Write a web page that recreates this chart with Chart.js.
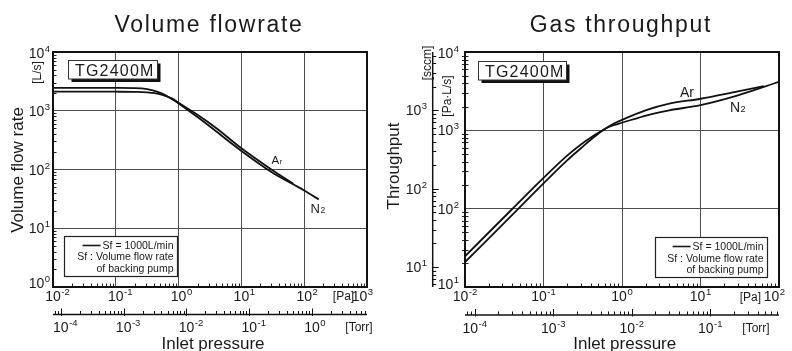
<!DOCTYPE html>
<html><head><meta charset="utf-8">
<script src="https://cdn.jsdelivr.net/npm/chart.js@4/dist/chart.umd.min.js"></script>
<style>
html,body{margin:0;padding:0;background:#fff;}
#wrap{position:relative;width:792px;height:351px;overflow:hidden;background:#fff;}
canvas{position:absolute;top:0;}
#c1{left:0px;}
#c2{left:380px;}
</style></head><body>
<div id="wrap">
<canvas id="c1" width="380" height="351"></canvas>
<canvas id="c2" width="412" height="351"></canvas>
</div>
<script>
// ---------------- data ----------------
// Volume flowrate chart: inlet pressure [Pa] -> volume flow rate [L/s]
const volPressureN2 = [0.01, 0.05, 0.1, 0.2, 0.316, 0.5, 0.79, 1, 2, 4, 10, 30, 67, 100, 170];
const volSpeedN2    = [2450, 2450, 2445, 2430, 2330, 2030, 1575, 1334, 780, 442, 207, 91, 56, 44, 31];
const volPressureAr = [0.01, 0.05, 0.1, 0.2, 0.316, 0.5, 0.79, 1, 2, 4, 10, 30, 67];
const volSpeedAr    = [2110, 2110, 2108, 2100, 2060, 1920, 1610, 1370, 855, 505, 230, 100, 57];

// Gas throughput chart: inlet pressure [Pa] -> throughput [Pa·L/s]
const gasPressureN2   = [0.01, 0.04, 0.1, 0.2, 0.3, 0.41, 0.61, 0.78, 1, 2.08, 4, 10, 30, 100];
const gasThroughputN2 = [24.7, 99, 247, 476, 660, 820, 1049, 1162, 1250, 1557, 1800, 2100, 2800, 4160];
const gasPressureAr   = [0.01, 0.048, 0.1, 0.2, 0.3, 0.41, 0.61, 0.78, 1, 2.08, 4, 10, 30, 64];
const gasThroughputAr = [20.8, 100, 210, 414, 591, 775, 1045, 1211, 1358, 1820, 2186, 2531, 3151, 3667];

// tick label exponents (labels are 10^n)
const volPaExponents    = ['-2', '-1', '0', '1', '2', '3'];
const volTorrExponents  = ['-4', '-3', '-2', '-1', '0'];
const volYExponents     = ['0', '1', '2', '3', '4'];
const gasPaExponents    = ['-2', '-1', '0', '1', '2'];
const gasTorrExponents  = ['-4', '-3', '-2', '-1'];
const gasYExponents     = ['1', '2', '3', '4'];
const gasSccmExponents  = ['1', '2', '3'];

const PA_PER_TORR = 133.322;
const SCCM_PER_PALS = 0.556;
const FONT = '"Liberation Sans", Arial, Helvetica, sans-serif';
const INK = '#1a1a1a';

function isPow10(v){ const l = Math.log10(v); return Math.abs(l - Math.round(l)) < 1e-6; }
function gridColor(c){ return (c.tick && isPow10(c.tick.value)) ? '#4d4d4d' : 'rgba(0,0,0,0)'; }
function toPts(xs, ys){ return xs.map((x, i) => ({x: x, y: ys[i]})); }
function logValues(min, max){
  const out = [];
  for (let e = Math.floor(Math.log10(min)) - 1; e <= Math.ceil(Math.log10(max)); e++)
    for (let m = 1; m <= 9; m++){
      const v = m * Math.pow(10, e);
      if (v >= min * 0.9999 && v <= max * 1.0001) out.push({v: v, major: m === 1});
    }
  return out;
}
function powMetrics(ctx, exp){
  ctx.font = '14px ' + FONT; const a = ctx.measureText('10').width;
  ctx.font = '9.5px ' + FONT; const b = ctx.measureText(exp).width;
  return {a: a, b: b, w: a + b + 0.5};
}
function drawPow(ctx, exp, left, cy){
  ctx.textAlign = 'left'; ctx.textBaseline = 'alphabetic'; ctx.fillStyle = INK;
  ctx.font = '14px ' + FONT; ctx.fillText('10', left, cy + 5);
  const a = ctx.measureText('10').width;
  ctx.font = '9.5px ' + FONT; ctx.fillText(exp, left + a + 0.5, cy - 1);
}
function hLabels(ctx, scale, off, exps, cy, mode){
  exps.forEach((e, i) => {
    const px = scale.getPixelForValue(Math.pow(10, Number(e))) + off;
    const m = powMetrics(ctx, e);
    let left;
    if (i === exps.length - 1 && mode.lastRight) left = px + 6 - m.w;
    else if (mode.kind === 'base') left = px - m.a / 2;
    else left = px - m.w / 2;
    drawPow(ctx, e, left, cy);
  });
}
function vLabels(ctx, scale, exps, right, shifts){
  exps.forEach((e, i) => {
    const py = scale.getPixelForValue(Math.pow(10, Number(e)));
    const m = powMetrics(ctx, e);
    let cy = py;
    if (i === 0) cy += shifts[0];
    if (i === exps.length - 1) cy += shifts[1];
    drawPow(ctx, e, right - m.w, cy);
  });
}
function vText(ctx, s, x, y, font){
  ctx.save(); ctx.translate(x, y); ctx.rotate(-Math.PI / 2);
  ctx.font = font; ctx.textAlign = 'center'; ctx.textBaseline = 'alphabetic'; ctx.fillStyle = INK;
  ctx.fillText(s, 0, 0); ctx.restore();
}
function line(ctx, x1, y1, x2, y2){ ctx.beginPath(); ctx.moveTo(x1, y1); ctx.lineTo(x2, y2); ctx.stroke(); }

function decoPlugin(d){
  return {
    id: 'deco',
    afterDraw(chart){
      const ctx = chart.ctx, ca = chart.chartArea, off = d.offset;
      const sx = chart.scales.x, sy = chart.scales.y, sT = chart.scales.xTorr;
      ctx.save();
      ctx.translate(-off, 0);
      const L = ca.left + off, R = ca.right + off, T = ca.top, B = ca.bottom;
      ctx.lineCap = 'butt';

      // TG2400M label box with shadow
      const tb = d.tgBox;
      ctx.fillStyle = '#111'; ctx.fillRect(tb.x + 3, tb.y + 3, tb.w, tb.h);
      ctx.fillStyle = '#fff'; ctx.fillRect(tb.x, tb.y, tb.w, tb.h);
      ctx.strokeStyle = '#333'; ctx.lineWidth = 1; ctx.strokeRect(tb.x, tb.y, tb.w, tb.h);
      ctx.fillStyle = INK; ctx.font = '16px ' + FONT; ctx.textAlign = 'left'; ctx.textBaseline = 'alphabetic';
      ctx.letterSpacing = '1.2px';
      ctx.fillText(d.tgText, tb.x + 6.5, tb.y + 15.5);
      ctx.letterSpacing = '0px';

      // legend box
      const lg = d.legend;
      ctx.fillStyle = '#fff'; ctx.fillRect(lg.x, lg.y, lg.w, lg.h);
      ctx.strokeStyle = '#222'; ctx.lineWidth = 1.2; ctx.strokeRect(lg.x, lg.y, lg.w, lg.h);
      ctx.fillStyle = INK; ctx.font = '10.5px ' + FONT; ctx.textAlign = 'right';
      const rx = lg.x + lg.w - 4;
      d.legendLines.forEach((s, i) => ctx.fillText(s, rx, lg.y + lg.b[i]));
      const w1 = ctx.measureText(d.legendLines[0]).width;
      ctx.strokeStyle = INK; ctx.lineWidth = 1.6;
      line(ctx, rx - w1 - 20, lg.y + lg.b[0] - 3.5, rx - w1 - 2, lg.y + lg.b[0] - 3.5);

      // inner minor ticks
      ctx.strokeStyle = '#222'; ctx.lineWidth = 1;
      logValues(sx.min, sx.max).forEach(t => {
        if (t.major) return;
        const x = Math.round(sx.getPixelForValue(t.v) + off) + 0.5;
        line(ctx, x, B, x, B - 3.5);
      });
      logValues(sy.min, sy.max).forEach(t => {
        if (t.major) return;
        const y = Math.round(sy.getPixelForValue(t.v)) + 0.5;
        line(ctx, L - d.yTickOut, y, L + 3.5, y);
      });

      // frame
      ctx.strokeStyle = '#111'; ctx.lineWidth = 2;
      ctx.strokeRect(L, T, R - L, B - T);

      // main tick labels
      hLabels(ctx, sx, off, d.paExps, d.xLabelY, {kind: d.xLabelMode, lastRight: true});
      vLabels(ctx, sy, d.yExps, d.yLabelRight, d.yShift);

      // Torr axis
      ctx.strokeStyle = '#111'; ctx.lineWidth = 1.5;
      line(ctx, L, d.torrY, R, d.torrY);
      ctx.lineWidth = 1;
      logValues(sT.min, sT.max).forEach(t => {
        const x = Math.round(sT.getPixelForValue(t.v) + off) + 0.5;
        if (t.major) line(ctx, x, d.torrY - 6, x, d.torrY + 1.5);
        else line(ctx, x, d.torrY - 3.5, x, d.torrY);
      });
      hLabels(ctx, sT, off, d.torrExps, d.torrLabelY, {kind: d.xLabelMode, lastRight: false});

      // sccm axis
      if (d.sccm){
        const sS = chart.scales.ySccm;
        const ax = d.sccm.x;
        ctx.strokeStyle = '#111'; ctx.lineWidth = 1.5;
        line(ctx, ax, T, ax, B);
        ctx.lineWidth = 1;
        logValues(sS.min, sS.max).forEach(t => {
          const y = Math.round(sS.getPixelForValue(t.v)) + 0.5;
          line(ctx, ax, y, ax + (t.major ? 6 : 3.5), y);
        });
        vLabels(ctx, sS, d.sccm.exps, d.sccm.right, [0, 0]);
      }

      // unit labels
      ctx.fillStyle = INK; ctx.font = '12px ' + FONT; ctx.textAlign = 'center'; ctx.textBaseline = 'alphabetic';
      ctx.fillText('[Pa]', d.paUnit.x, d.paUnit.y + 4.5);
      ctx.fillText('[Torr]', d.torrUnit.x, d.torrUnit.y + 4.5);
      d.units.forEach(u => vText(ctx, u.text, u.x, u.y, '12px ' + FONT));

      // titles
      ctx.fillStyle = INK; ctx.textAlign = 'center';
      ctx.font = '23px ' + FONT; ctx.letterSpacing = '1.7px';
      ctx.fillText(d.title.text, d.title.x, d.title.y);
      ctx.letterSpacing = '0px';
      ctx.font = '17px ' + FONT;
      ctx.fillText(d.xTitle.text, d.xTitle.x, d.xTitle.y);
      vText(ctx, d.yTitle.text, d.yTitle.x, d.yTitle.y, '17px ' + FONT);

      // gas labels
      ctx.textAlign = 'left';
      d.gas.forEach(g => {
        ctx.font = g.f1 + 'px ' + FONT; ctx.fillText(g.main, g.x, g.y);
        const w = ctx.measureText(g.main).width;
        if (g.sub){ ctx.font = g.f2 + 'px ' + FONT; ctx.fillText(g.sub, g.x + w + 0.5, g.y); }
      });
      ctx.restore();
    }
  };
}

function lineDataset(label, pts){
  return {label: label, data: pts, borderColor: '#111', borderWidth: 1.8, pointRadius: 0,
          cubicInterpolationMode: 'monotone', fill: false};
}
function baseScales(xMin, xMax, yMin, yMax){
  return {
    x: {type: 'logarithmic', position: 'bottom', min: xMin, max: xMax,
        ticks: {display: false}, grid: {color: gridColor, lineWidth: 1, drawTicks: false},
        border: {display: false}, afterFit(s){ s.height = 0; }},
    xTorr: {type: 'logarithmic', position: 'bottom', min: xMin / PA_PER_TORR, max: xMax / PA_PER_TORR,
        ticks: {display: false}, grid: {display: false, drawTicks: false},
        border: {display: false}, afterFit(s){ s.height = 0; }},
    y: {type: 'logarithmic', position: 'left', min: yMin, max: yMax,
        ticks: {display: false}, grid: {color: gridColor, lineWidth: 1, drawTicks: false},
        border: {display: false}, afterFit(s){ s.width = 0; }}
  };
}
const commonOpts = {
  responsive: false, animation: false, devicePixelRatio: 1, events: [],
  plugins: {legend: {display: false}, tooltip: {enabled: false}, title: {display: false}}
};

// ---------- Volume flowrate ----------
const volScales = baseScales(0.01, 1000, 1, 10000);
new Chart(document.getElementById('c1'), {
  type: 'line',
  data: {datasets: [lineDataset('Ar', toPts(volPressureAr, volSpeedAr)),
                    lineDataset('N2', toPts(volPressureN2, volSpeedN2))]},
  options: Object.assign({}, commonOpts, {
    layout: {padding: {left: 53, right: 13, top: 52, bottom: 64}},
    scales: volScales
  }),
  plugins: [decoPlugin({
    offset: 0,
    title: {text: 'Volume flowrate', x: 209, y: 31.5},
    xTitle: {text: 'Inlet pressure', x: 213, y: 348.5},
    yTitle: {text: 'Volume flow rate', x: 22.5, y: 170},
    units: [{text: '[L/s]', x: 40.5, y: 72.5}],
    paExps: volPaExponents, torrExps: volTorrExponents, yExps: volYExponents,
    xLabelMode: 'base', xLabelY: 295.5, torrY: 314.5, torrLabelY: 326.5,
    yLabelRight: 50, yShift: [-4, 1], yTickOut: 0,
    paUnit: {x: 343.5, y: 295.5}, torrUnit: {x: 359, y: 326.5},
    tgText: 'TG2400M', tgBox: {x: 68.5, y: 60.5, w: 89, h: 18.5},
    legendLines: ['Sf = 1000L/min', 'Sf : Volume flow rate', 'of backing pump'],
    legend: {x: 64.5, y: 236.5, w: 113, h: 40, b: [12.5, 23.5, 35.5]},
    gas: [{main: 'A', sub: 'r', x: 271.5, y: 164.3, f1: 11.5, f2: 8},
          {main: 'N', sub: '2', x: 310.5, y: 213.3, f1: 13, f2: 8.5}]
  })]
});

// ---------- Gas throughput ----------
const gasScales = baseScales(0.01, 100, 10, 10000);
gasScales.ySccm = {type: 'logarithmic', position: 'left', min: 10 * SCCM_PER_PALS, max: 10000 * SCCM_PER_PALS,
  ticks: {display: false}, grid: {display: false, drawTicks: false}, border: {display: false},
  afterFit(s){ s.width = 0; }};
new Chart(document.getElementById('c2'), {
  type: 'line',
  data: {datasets: [lineDataset('Ar', toPts(gasPressureAr, gasThroughputAr)),
                    lineDataset('N2', toPts(gasPressureN2, gasThroughputN2))]},
  options: Object.assign({}, commonOpts, {
    layout: {padding: {left: 85, right: 13, top: 52, bottom: 64}},
    scales: gasScales
  }),
  plugins: [decoPlugin({
    offset: 380,
    title: {text: 'Gas throughput', x: 621, y: 32},
    xTitle: {text: 'Inlet pressure', x: 624.7, y: 348.5},
    yTitle: {text: 'Throughput', x: 399, y: 166},
    units: [{text: '[sccm]', x: 431, y: 63}, {text: '[Pa·L/s]', x: 451, y: 96}],
    paExps: gasPaExponents, torrExps: gasTorrExponents, yExps: gasYExponents,
    xLabelMode: 'whole', xLabelY: 296, torrY: 315, torrLabelY: 327.5,
    yLabelRight: 459, yShift: [-3, 1], yTickOut: 3,
    paUnit: {x: 750.3, y: 296}, torrUnit: {x: 756, y: 327.5},
    tgText: 'TG2400M', tgBox: {x: 478.5, y: 61.5, w: 88, h: 18.5},
    legendLines: ['Sf = 1000L/min', 'Sf : Volume flow rate', 'of backing pump'],
    legend: {x: 655.5, y: 237.5, w: 112, h: 40, b: [12.5, 24, 35]},
    gas: [{main: 'Ar', sub: '', x: 680, y: 96.7, f1: 14},
          {main: 'N', sub: '2', x: 730, y: 112.3, f1: 14, f2: 9}],
    sccm: {x: 432.7, right: 427, exps: gasSccmExponents}
  })]
});
</script>
</body></html>
